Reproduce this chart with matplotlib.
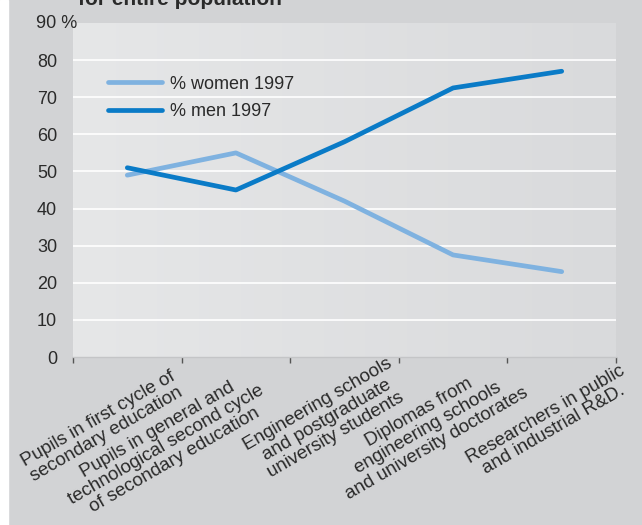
import numpy as np
import matplotlib.pyplot as plt
import matplotlib.colors as mcolors

plt.rcParams['font.family'] = ['Liberation Sans', 'DejaVu Sans']

# categories along the x axis
categories = ["Pupils in first cycle of\nsecondary education",
              "Pupils in general and\ntechnological second cycle\nof secondary education",
              "Engineering schools\nand postgraduate\nuniversity students",
              "Diplomas from\nengineering schools\nand university doctorates",
              "Researchers in public\nand industrial R&D."]

women_1997 = [49, 55, 42, 27.5, 23]     # % women
men_1997 = [51, 45, 58, 72.5, 77]       # % men

y_ticks = [0, 10, 20, 30, 40, 50, 60, 70, 80, 90]

# label placement (pixel offsets of the label centre from the category centre)
label_dx = [-25, -70, -18, -25, -12]
label_dy = [-70, -88, -63, -71, -65]

women_color = "#7fb2e0"
men_color = "#0a7bc7"
text_color = "#2a2a2a"

fig = plt.figure(figsize=(6.42, 5.25), dpi=100, facecolor="#d2d3d5")
ax = fig.add_axes([73/642, 1 - 357/525, (616 - 73)/642, (357 - 23)/525])

# white strip at the left edge
fig.patches.append(plt.Rectangle((0, 0), 8/642, 1, transform=fig.transFigure,
                                 color="white", zorder=-1))

# soft gradient in the plot area
grad = np.linspace(0, 1, 256).reshape(1, -1)
cmap = mcolors.LinearSegmentedColormap.from_list("bg", ["#e6e7e8", "#d9dadc"])
ax.imshow(grad, extent=[0, 1, 0, 1], transform=ax.transAxes, cmap=cmap,
          aspect="auto", zorder=0)

x = np.arange(len(categories))
ax.plot(x, women_1997, color=women_color, lw=3.4, solid_capstyle="round",
        solid_joinstyle="round", label="% women 1997", zorder=3)
ax.plot(x, men_1997, color=men_color, lw=3.4, solid_capstyle="round",
        solid_joinstyle="round", label="% men 1997", zorder=4)

ax.set_xlim(-0.5, len(categories) - 0.5)
ax.set_ylim(0, 90)

for y in y_ticks[1:-1]:
    ax.axhline(y, color="white", lw=1.2, zorder=1)

ax.set_yticks(y_ticks)
ax.set_yticklabels([str(v) for v in y_ticks[:-1]] + [""])
ax.tick_params(axis="y", length=0, pad=11.5, labelsize=13, labelcolor=text_color)
ax.annotate("90 %", xy=(0, y_ticks[-1]), xycoords=("axes fraction", "data"),
            xytext=(-37, 0), textcoords="offset pixels", ha="left", va="center",
            fontsize=13, color=text_color)

ax.set_xticks(np.arange(len(categories) + 1) - 0.5)
ax.set_xticklabels([])
ax.tick_params(axis="x", length=4, width=1, color="#555555", direction="out")

for i, lab in enumerate(categories):
    ax.annotate(lab, xy=(i, 0), xycoords=("data", "axes fraction"),
                xytext=(label_dx[i], label_dy[i]), textcoords="offset pixels",
                ha="center", va="center", rotation=30, rotation_mode="anchor",
                multialignment="center", linespacing=1.05, fontsize=13.5,
                color=text_color, annotation_clip=False)

for s in ["top", "right", "left"]:
    ax.spines[s].set_visible(False)
ax.spines["bottom"].set_color("#c4c5c7")
ax.spines["bottom"].set_linewidth(1)

leg = fig.legend(loc="center left", bbox_to_anchor=(108/642, 1 - 98/525),
                 frameon=False, fontsize=13, handlelength=3.0, handletextpad=0.45,
                 labelspacing=0.6, borderpad=0, borderaxespad=0)
for t in leg.get_texts():
    t.set_color(text_color)

fig.text(78/642, 1 - 5/525, "for entire population", fontsize=15, fontweight="bold",
         color=text_color, ha="left", va="baseline")

fig.savefig("out.png", dpi=100, facecolor=fig.get_facecolor())
